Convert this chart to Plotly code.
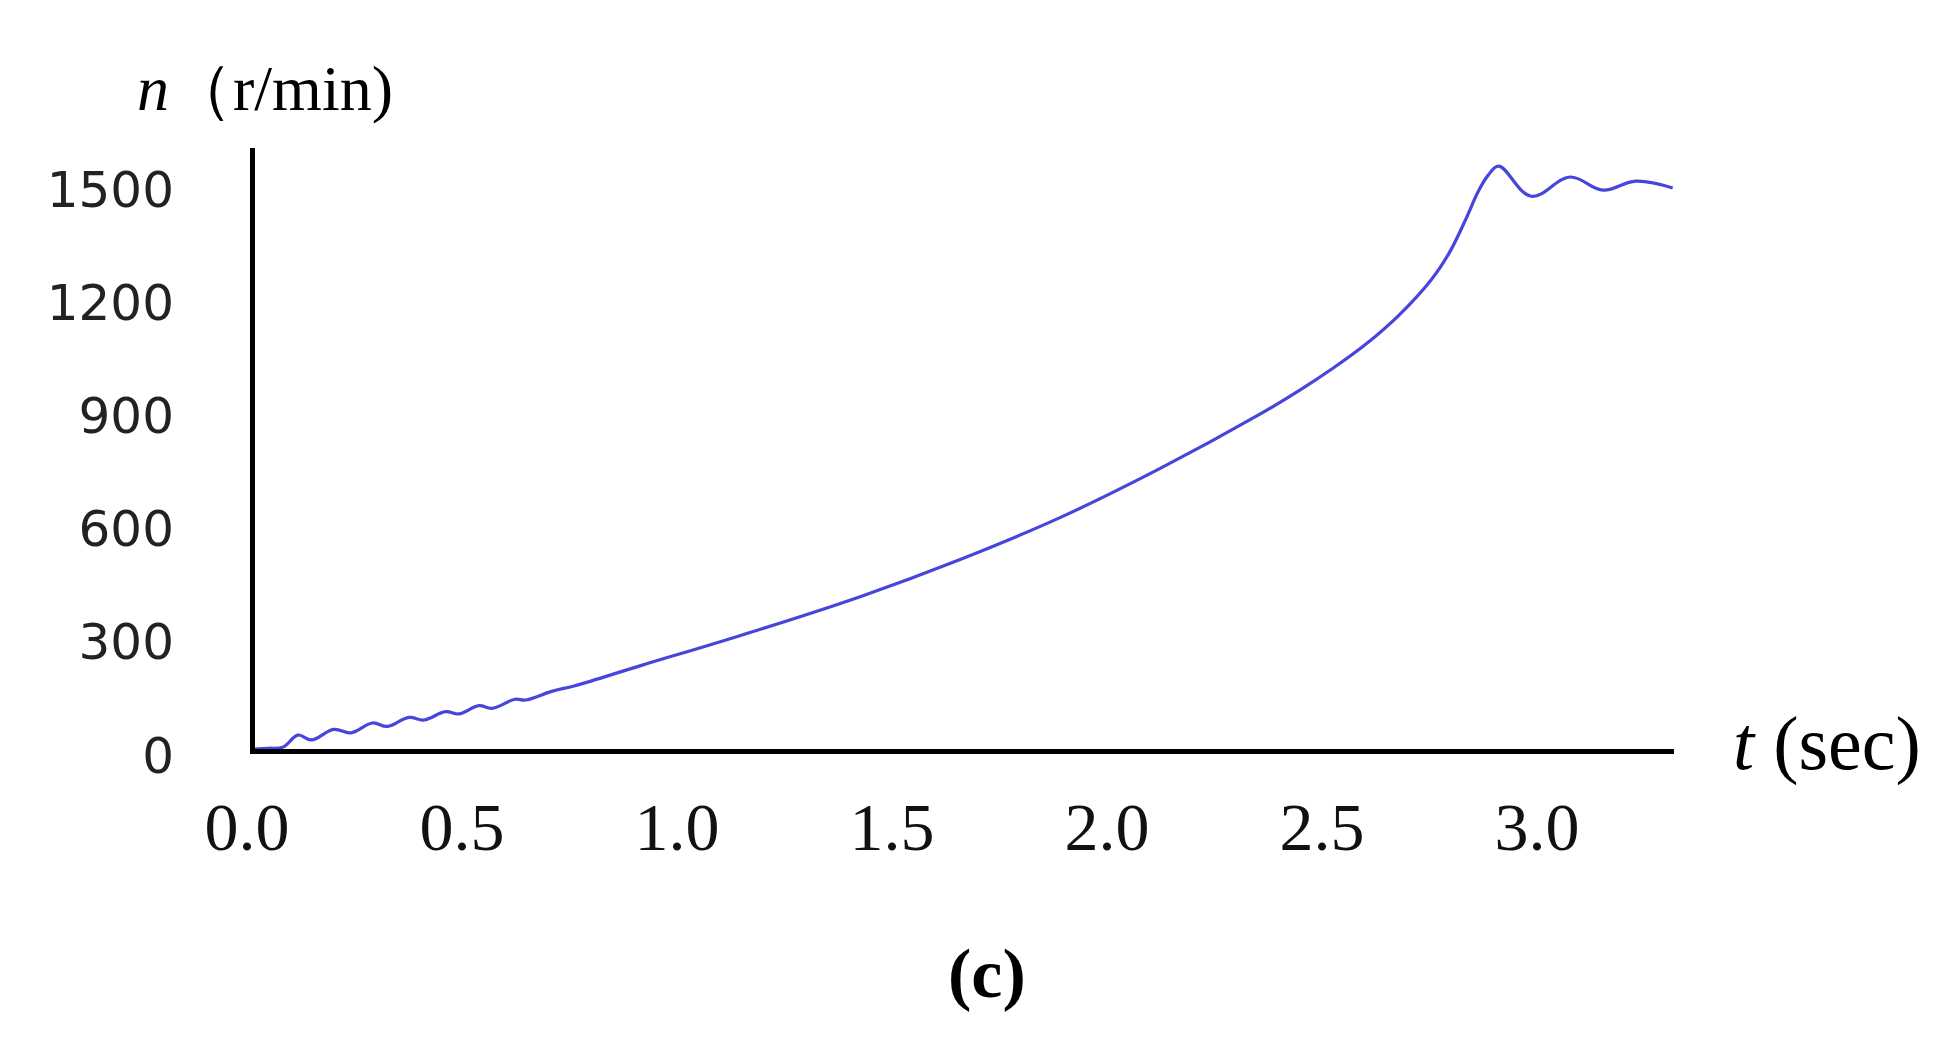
import plotly.graph_objects as go

# Time (sec) and speed n (r/min)
t_sec = [0.0, 0.03, 0.065, 0.1, 0.131, 0.183, 0.223, 0.273, 0.308, 0.358, 0.393,
         0.443, 0.474, 0.521, 0.551, 0.605, 0.629, 0.690, 0.744, 0.899, 1.131,
         1.409, 1.640, 1.872, 2.104, 2.336, 2.428, 2.505, 2.583, 2.660, 2.736,
         2.776, 2.815, 2.845, 2.868, 2.892, 2.968, 3.058, 3.135, 3.211, 3.297]
n_rpm = [0, 2, 5, 37, 24, 52, 43, 69, 60, 84, 77,
         99, 93, 115, 108, 132, 130, 153, 168, 222, 302,
         405, 503, 614, 744, 888, 951, 1009, 1074, 1151, 1246,
         1314, 1404, 1480, 1523, 1547, 1467, 1518, 1483, 1507, 1489]

x_tick_vals = [0.0, 0.5, 1.0, 1.5, 2.0, 2.5, 3.0]
x_tick_text = ["0.0", "0.5", "1.0", "1.5", "2.0", "2.5", "3.0"]
y_tick_vals = [0, 300, 600, 900, 1200, 1500]
y_tick_text = ["0", "300", "600", "900", "1200", "1500"]

W, H = 1958, 1037
ML, MR, MT, MB = 247, 292, 140, 296
PW, PH = W - ML - MR, H - MT - MB


def px(xp):
    return (xp - ML) / PW


def py(yp):
    return (H - MB - yp) / PH


fig = go.Figure()
fig.add_trace(go.Scatter(
    x=t_sec, y=n_rpm, mode="lines",
    line=dict(color="#4646dc", width=3.2, shape="spline", smoothing=1.1),
    showlegend=False, hoverinfo="skip",
))

fig.update_layout(
    width=W, height=H, autosize=False,
    margin=dict(l=ML, r=MR, t=MT, b=MB, pad=0),
    paper_bgcolor="white", plot_bgcolor="white",
    xaxis=dict(
        range=[0, 3.3], showgrid=False, zeroline=False,
        showline=True, linecolor="black", linewidth=5,
        tickmode="array", tickvals=x_tick_vals, ticktext=x_tick_text,
        ticks="", ticklabelstandoff=14, ticklabelshift=-8,
        tickfont=dict(family="Liberation Serif", size=68, color="#111111"),
    ),
    yaxis=dict(
        range=[0, 1595], showgrid=False, zeroline=False,
        showline=True, linecolor="black", linewidth=5,
        tickmode="array", tickvals=y_tick_vals, ticktext=y_tick_text,
        ticks="", ticklabelstandoff=66, ticklabelshift=6,
        tickfont=dict(family="DejaVu Sans", size=50, color="#222222"),
    ),
    annotations=[
        dict(text="<i>n</i>（r/min)", xref="paper", yref="paper",
             x=px(127), y=py(80),
             xanchor="left", yanchor="middle", showarrow=False,
             font=dict(family="Liberation Serif", size=64, color="black")),
        dict(text="<i>t</i> (sec)", xref="paper", yref="paper",
             x=px(1723), y=py(735),
             xanchor="left", yanchor="middle", showarrow=False,
             font=dict(family="Liberation Serif", size=76, color="black")),
        dict(text="<b>(c)</b>", xref="paper", yref="paper",
             x=px(979), y=py(965),
             xanchor="center", yanchor="middle", showarrow=False,
             font=dict(family="Liberation Serif", size=70, color="black")),
    ],
)

fig.write_html("out.html")
